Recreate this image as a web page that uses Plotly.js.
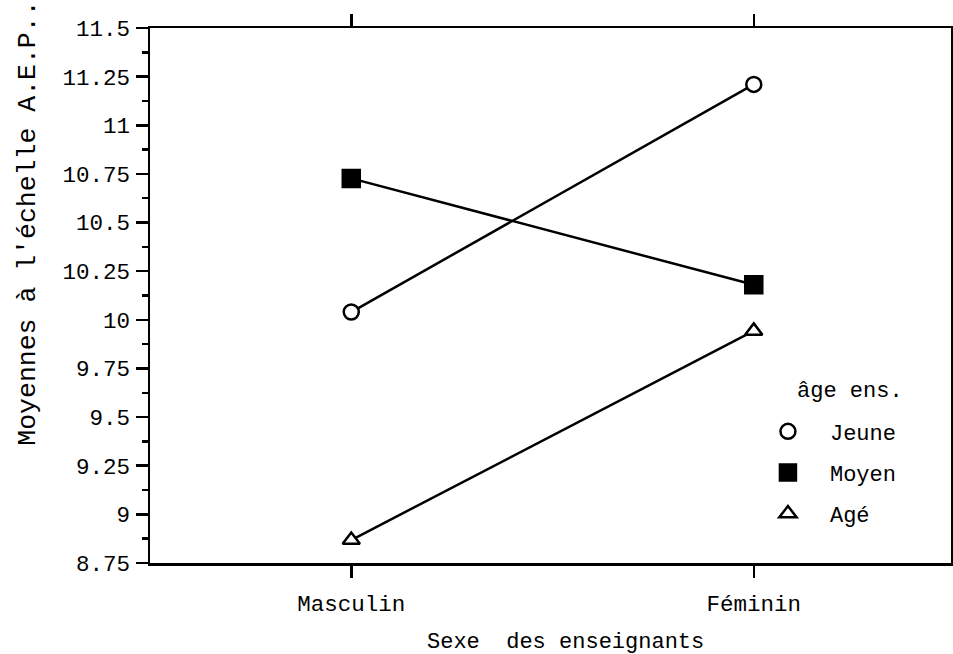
<!DOCTYPE html>
<html>
<head>
<meta charset="utf-8">
<script src="https://cdn.plot.ly/plotly-3.0.1.min.js"></script>
<style>html,body{margin:0;padding:0;background:#fff;}#chart{width:953px;height:654px;}</style>
</head>
<body>
<div id="chart"></div>
<script>
const categories = ["Masculin", "Féminin"];
const seriesNames = ["Jeune", "Moyen", "Agé"];
const jeune = [10.04, 11.21];
const moyen = [10.727, 10.18];
const age = [8.868, 9.943];
const yTickVals = [8.75, 9, 9.25, 9.5, 9.75, 10, 10.25, 10.5, 10.75, 11, 11.25, 11.5];
const yTickText = ["8.75", "9", "9.25", "9.5", "9.75", "10", "10.25", "10.5", "10.75", "11", "11.25", "11.5"];
const legendTitle = "âge ens.";
const xTitle = "Sexe\u00A0 des enseignants";
const yTitle = "Moyennes à l'échelle A.E.P...";

const FONT = "Liberation Mono, Courier New, monospace";
const values = [jeune, moyen, age];
const symbols = ["circle", "square", "triangle-up"];
const fills = ["#ffffff", "#000000", "#ffffff"];
const sizes = [15, 17, 15];

const lineTraces = values.map((v, i) => ({
  x: categories, y: v, name: seriesNames[i], type: "scatter", mode: "lines",
  showlegend: false, hoverinfo: "skip",
  line: {color: "#000", width: 2.5}
}));
const markerTraces = values.map((v, i) => ({
  x: categories, y: v, name: seriesNames[i], type: "scatter", mode: "markers",
  legendgroup: "g" + i,
  marker: {symbol: symbols[i], size: sizes[i], color: fills[i], line: {color: "#000", width: 2.5}},
  cliponaxis: false
}));

const layout = {
  width: 953, height: 654,
  margin: {l: 150, r: 2, t: 28, b: 91},
  paper_bgcolor: "#fff", plot_bgcolor: "#fff",
  font: {family: FONT, size: 22, color: "#000"},
  showlegend: true,
  legend: {
    x: 0.744, y: 0.285, xanchor: "left", yanchor: "top",
    bgcolor: "rgba(0,0,0,0)",
    font: {family: FONT, size: 22, color: "#000"},
    traceorder: "grouped", tracegroupgap: 9.5,
    itemwidth: 74
  },
  xaxis: {
    type: "category",
    categoryorder: "array", categoryarray: categories,
    range: [-0.5, 1.49],
    showgrid: false, zeroline: false,
    showline: true, linecolor: "#000", linewidth: 2.5,
    mirror: "ticks",
    ticks: "outside", ticklen: 12, tickwidth: 2.5, tickcolor: "#000",
    ticklabelstandoff: 6,
    tickfont: {family: FONT, size: 22.5, color: "#000"}
  },
  yaxis: {
    range: [8.75, 11.5],
    tickvals: yTickVals, ticktext: yTickText,
    showgrid: false, zeroline: false,
    showline: true, linecolor: "#000", linewidth: 2.5,
    mirror: true,
    ticks: "outside", ticklen: 12, tickwidth: 2.5, tickcolor: "#000",
    ticklabelstandoff: 1,
    tickfont: {family: FONT, size: 22.5, color: "#000"},
    minor: {dtick: 0.125, tick0: 8.75, ticks: "outside", ticklen: 6, tickwidth: 2.5, tickcolor: "#000", showgrid: false}
  },
  annotations: [
    {text: xTitle, xref: "paper", yref: "paper", x: 0.519, y: -0.148, xanchor: "center", yanchor: "middle",
     showarrow: false, font: {family: FONT, size: 22, color: "#000"}},
    {text: yTitle, textangle: -90, xref: "paper", yref: "paper", x: -0.152, y: 0.215, xanchor: "center", yanchor: "bottom",
     showarrow: false, font: {family: FONT, size: 26.5, color: "#000"}},
    {text: legendTitle, xref: "paper", yref: "paper", x: (850 - 150) / 801, y: (563 - 392) / 535, xanchor: "center", yanchor: "middle",
     showarrow: false, font: {family: FONT, size: 22, color: "#000"}}
  ]
};

Plotly.newPlot("chart", lineTraces.concat(markerTraces), layout, {displayModeBar: false, staticPlot: true});
</script>
</body>
</html>
